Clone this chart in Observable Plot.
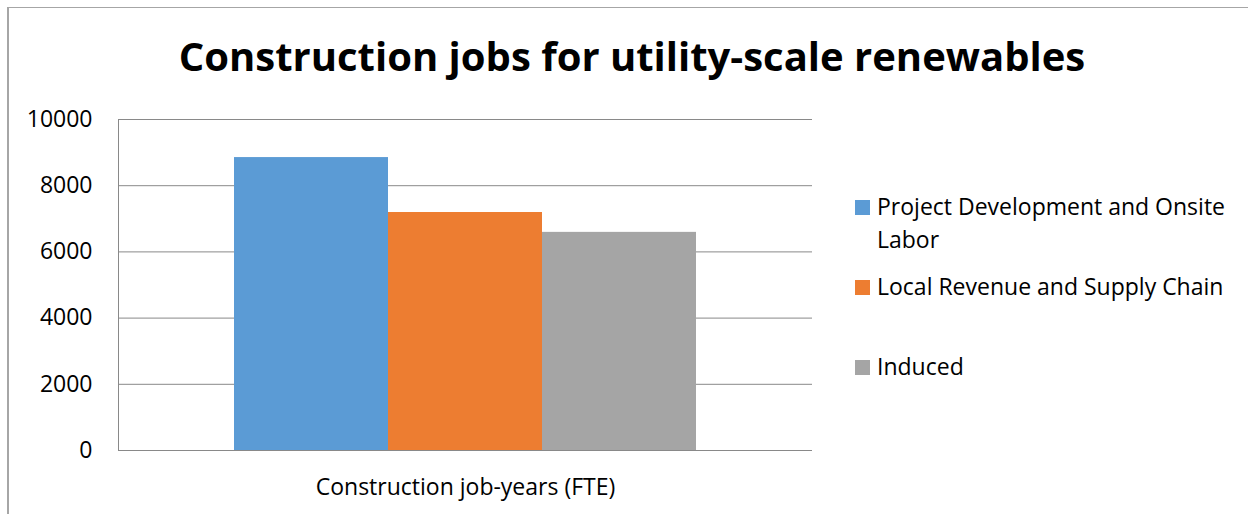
<!DOCTYPE html>
<html>
<head>
<meta charset="utf-8">
<script src="https://cdn.jsdelivr.net/npm/d3@7"></script>
<script src="https://cdn.jsdelivr.net/npm/@observablehq/plot@0.6"></script>
<style>
  html, body { margin: 0; padding: 0; background: #fff; }
  #wrap { position: relative; width: 1248px; height: 514px; overflow: hidden; font-family: "Open Sans", sans-serif; }
  #border { position: absolute; left: 7px; top: 7px; right: -10px; bottom: -10px; border-left: 2px solid #a6a6a6; border-top: 1px solid #a6a6a6; pointer-events: none; }
  #title { box-sizing: border-box; height: 100px; padding-top: 12px; padding-left: 16px; display: flex; align-items: center; justify-content: center; font-weight: 700; font-size: 40px; color: #000; line-height: 1; }
  #legend { position: absolute; left: 855px; top: 190px; width: 380px; }
  .item { display: flex; align-items: flex-start; height: 80px; }
  .sw { width: 15px; height: 15px; flex: none; margin-top: 10px; margin-right: 7px; }
  .lab { font-size: 23px; line-height: 33px; color: #000; width: 358px; }
</style>
</head>
<body>
<div id="wrap">
  <div id="border"></div>
  <div id="title"></div>
  <div id="chart"></div>
  <div id="legend"></div>
</div>
<script>
const titleText = "Construction jobs for utility-scale renewables";
const categories = ["Construction job-years (FTE)"];
const series = ["Project Development and Onsite Labor", "Local Revenue and Supply Chain", "Induced"];
const values = [8850, 7190, 6590];
const colors = ["#5b9bd5", "#ed7d31", "#a5a5a5"];
const yTicks = [0, 2000, 4000, 6000, 8000, 10000];

const data = series.map((s, i) => ({category: categories[0], series: s, value: values[i]}));

document.getElementById("title").textContent = titleText;

const chart = Plot.plot({
  width: 1248,
  height: 414,
  marginTop: 19,
  marginBottom: 64,
  marginLeft: 118,
  marginRight: 436,
  style: {fontFamily: "Open Sans, sans-serif", fontSize: "23px", color: "#000", background: "transparent"},
  fx: {domain: categories, padding: 0, label: null, axis: null},
  x: {domain: series, paddingInner: 0, paddingOuter: 0.743, axis: null},
  y: {domain: [0, 10000], axis: null},
  color: {domain: series, range: colors},
  marks: [
    Plot.gridY(yTicks, {stroke: "#898989", strokeOpacity: 1}),
    Plot.frame({anchor: "left", stroke: "#898989"}),
    Plot.barY(data, {fx: "category", x: "series", y: "value", fill: "series"}),
    Plot.axisY(yTicks, {tickSize: 0, tickPadding: 26, fontSize: 23, label: null, tickFormat: d => String(d)}),
    Plot.axisFx({anchor: "bottom", tickSize: 0, tickPadding: 28, fontSize: 23, label: null})
  ]
});
document.getElementById("chart").appendChild(chart);

const legend = d3.select("#legend");
series.forEach((s, i) => {
  const it = legend.append("div").attr("class", "item");
  it.append("div").attr("class", "sw").style("background", colors[i]);
  it.append("div").attr("class", "lab").text(s);
});
</script>
</body>
</html>
